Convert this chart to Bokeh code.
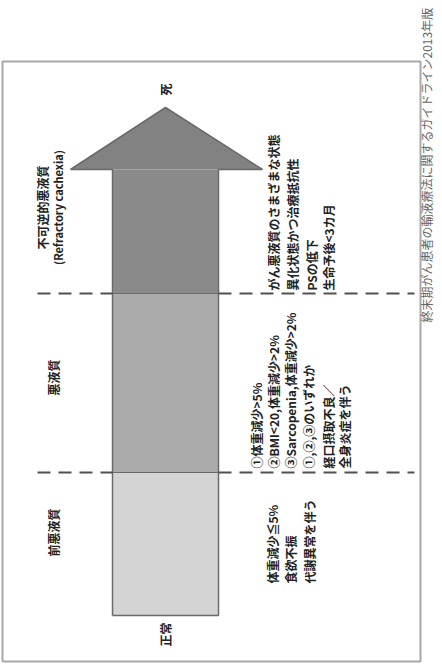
import math
from bokeh.plotting import figure
from bokeh.models import Range1d
from bokeh.embed import file_html
from bokeh.resources import INLINE
from bokeh.core.properties import value

# ---- content -------------------------------------------------------------
stage_labels = ["前悪液質", "悪液質"]
refractory_label = ["不可逆的悪液質", "(Refractory cachexia)"]
start_label = "正常"
end_label = "死"
pre_lines = ["体重減少≦5%", "食欲不振", "代謝異常を伴う"]
cachexia_lines = ["①体重減少>5%", "②BMI<20,体重減少>2%", "③Sarcopenia,体重減少>2%", "①,②,③のいずれか"]
intake_lines = ["経口摂取不良／", "全身炎症を伴う"]
refractory_lines = ["がん悪液質のさまざまな状態", "異化状態かつ治療抵抗性", "PSの低下", "生命予後<3カ月"]
source_note = "終末期がん患者の輸液療法に関するガイドライン2013年版"

# ---- layout (page pixel space) -------------------------------------------
W, H = 434, 663
p = figure(width=W, height=H, x_range=Range1d(8, 8 + W), y_range=Range1d(8 + H, 8),
           output_backend="svg", toolbar_location=None, min_border=0,
           x_axis_location=None, y_axis_location=None)
p.grid.visible = False
p.outline_line_color = None
p.background_fill_color = "white"

FONT = value("Noto Sans CJK JP")
ANG = math.pi / 2

# frame
p.quad(left=[10], right=[428], top=[69], bottom=[669], fill_color=None,
       line_color="#a8a8a8", line_width=2)

# arrow geometry
cx = 173
shaft_l, shaft_r = 120, 226
y_bottom, y_b1, y_b2, y_base, y_tip = 623, 480, 301, 177, 115
head_l, head_r = 78, 270

p.quad(left=[shaft_l] * 3, right=[shaft_r] * 3,
       top=[y_b1, y_b2, y_base], bottom=[y_bottom, y_b1, y_b2],
       fill_color=["#d4d4d4", "#ababab", "#8a8a8a"], line_color=None)
p.patch([head_l, head_r, cx], [y_base, y_base, y_tip], fill_color="#828282", line_color=None)
# stage boundaries inside the shaft
for yb in (y_b2, y_b1):
    p.line([shaft_l, shaft_r], [yb, yb], line_color="#6a6a6a", line_width=1.2)
# arrow outline
p.line([shaft_l, shaft_l, head_l, cx, head_r, shaft_r, shaft_r, shaft_l],
       [y_bottom, y_base, y_base, y_tip, y_base, y_base, y_bottom, y_bottom],
       line_color="#6a6a6a", line_width=1.5)

# dashed stage boundaries (outside the arrow)
for yb in (y_b2, y_b1):
    p.line([45, shaft_l], [yb, yb], line_color="#505050", line_width=2.2, line_dash="13 8")
    p.line([shaft_r, 422], [yb, yb], line_color="#505050", line_width=2.2, line_dash="13 8")

def vtext(x, y, s, size="12px", bold=True, align="left", color="#222222"):
    p.text(x=[x], y=[y], text=[s], angle=ANG, text_font=FONT, text_font_size=size,
           text_font_style="bold" if bold else "normal", text_align=align,
           text_baseline="middle", text_color=color)

# left stage labels
vtext(61, 540, stage_labels[0], align="center")
vtext(61, 385, stage_labels[1], align="center")
vtext(50, 215, refractory_label[0], align="center")
vtext(65, 215, refractory_label[1], size="11px", align="center")

# start / end
vtext(173, 642, start_label, align="center")
vtext(173, 97, end_label, align="center")

# descriptions
for x, s in zip([280, 298, 317], pre_lines):
    vtext(x, 591, s)
for x, s in zip([264, 281, 298, 316], cachexia_lines):
    vtext(x, 476, s)
for x, s in zip([336, 352], intake_lines):
    vtext(x, 476, s)
for x, s in zip([281, 300, 319, 336], refractory_lines):
    vtext(x, 298, s)

# source note
vtext(434, 330, source_note, size="12px", bold=False, color="#666666")

open("out.html", "w").write(file_html(p, INLINE))
